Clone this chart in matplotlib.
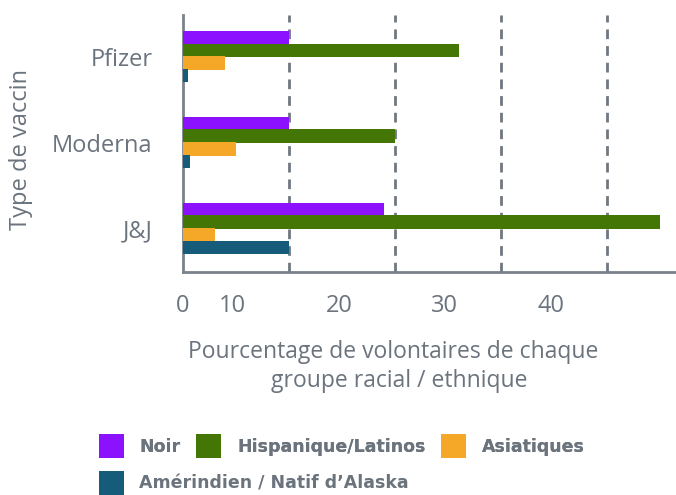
import matplotlib
matplotlib.use("Agg")
import matplotlib.pyplot as plt
import numpy as np
from matplotlib.patches import Patch

# donnees
vaccins = ["Pfizer", "Moderna", "J&J"]
groupes = ["Noir", "Hispanique/Latinos", "Asiatiques", "Amérindien / Natif d’Alaska"]
noir = [10, 10, 19]
hispanique = [26, 20, 45]
asiatiques = [4, 5, 3]
amerindien = [0.5, 0.7, 10]
couleurs = ["#8c12ff", "#437605", "#f5a727", "#165c7a"]

# etiquettes de l'axe x (decalees comme dans l'original)
ticks_x = [0, 4.7, 14.7, 24.7, 34.7]
labels_x = ["0", "10", "20", "30", "40"]
grille_x = [10, 20, 30, 40]

gris = "#6b737d"
plt.rcParams["font.family"] = ["Open Sans", "DejaVu Sans"]

fig = plt.figure(figsize=(6.76, 4.95), dpi=100)
ax = fig.add_axes([0.2707, 0.4505, 0.7293, 0.5192])

y = np.arange(len(vaccins))
h = 0.155
pas = 0.148
series = [noir, hispanique, asiatiques, amerindien]
for i, (vals, c) in enumerate(zip(series, couleurs)):
    ax.barh(y + (i - 1.5) * pas, vals, height=h, color=c, zorder=3)

for g in grille_x:
    ax.axvline(g, color="#6f7780", lw=2, ls=(0, (3.5, 2.5)), zorder=1)

ax.set_xlim(0, 46.5)
ax.set_ylim(2.506, -0.483)
ax.set_yticks(y)
ax.set_yticklabels(vaccins)
ax.set_xticks(ticks_x)
ax.set_xticklabels(labels_x)
ax.tick_params(axis="both", length=0, labelsize=17, colors=gris)
ax.tick_params(axis="y", pad=22)
ax.tick_params(axis="x", pad=16)

for s in ["top", "right"]:
    ax.spines[s].set_visible(False)
for s in ["left", "bottom"]:
    ax.spines[s].set_color("#7a828c")
    ax.spines[s].set_linewidth(2)

ax.set_ylabel("Type de vaccin", fontsize=17, color=gris)
ax.yaxis.set_label_coords(-0.305, 0.475)

fig.text(0.581, 0.259, "Pourcentage de volontaires de chaque\n  groupe racial / ethnique",
         ha="center", va="center", fontsize=16.5, color=gris, linespacing=1.3)

# legende sur deux lignes
handles = [Patch(facecolor=c) for c in couleurs]
police = {"family": "DejaVu Sans", "weight": "bold", "size": 12.5}
opts = dict(frameon=False, handlelength=1.45, handleheight=1.7,
            handletextpad=0.9, columnspacing=0.9, borderpad=0, borderaxespad=0,
            prop=police)
leg1 = fig.legend(handles[:3], groupes[:3], ncol=3, loc="center left",
                  bbox_to_anchor=(0.146, 1 - 446 / 495), **opts)
leg2 = fig.legend(handles[3:], groupes[3:], ncol=1, loc="center left",
                  bbox_to_anchor=(0.146, 1 - 483 / 495), **opts)
fig.add_artist(leg1)
for leg in (leg1, leg2):
    for t in leg.get_texts():
        t.set_color(gris)

fig.savefig("out.png", dpi=100)
